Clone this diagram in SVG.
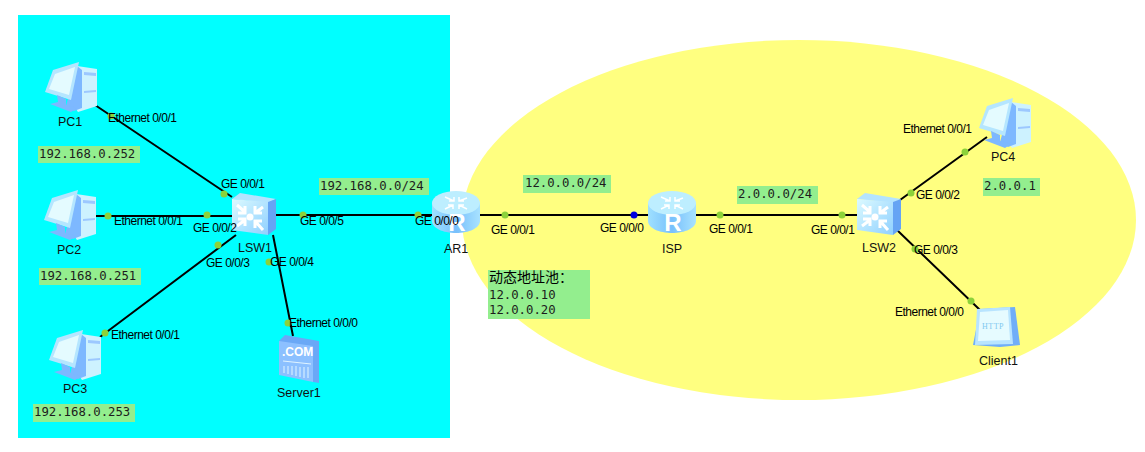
<svg xmlns="http://www.w3.org/2000/svg" width="1145" height="452" viewBox="0 0 1145 452">
<style>
text{font-family:"Liberation Sans",Arial,"Noto Sans CJK SC",sans-serif;font-size:12px;fill:#000;letter-spacing:-.5px}
.l{font-size:12.5px;letter-spacing:0;fill:#111}
.m{font-family:"DejaVu Sans Mono","Liberation Mono","Noto Sans CJK SC",monospace;font-size:12.3px;fill:#1c1c1c;letter-spacing:0}
.n{fill:#93ee8e}
.c{stroke:#000;stroke-width:2;fill:none}
.d{fill:#8cd23a}
.ar{fill:none;stroke:#fff;stroke-width:3}
</style>
<defs>
<linearGradient id="a" x1="0" y1="0" x2="1" y2="1"><stop offset="0" stop-color="#dcfaff"/><stop offset="1" stop-color="#8fd0ff"/></linearGradient>
<linearGradient id="r" x1="0" y1="0" x2="1" y2="0"><stop offset="0" stop-color="#9fe0ff"/><stop offset=".5" stop-color="#78c0fc"/><stop offset="1" stop-color="#a8e2ff"/></linearGradient>
<symbol id="pc" width="53" height="50" viewBox="0 0 53 50" overflow="visible">
<path d="M33 4 53 7V44L34 50 30 44Z" fill="#cdf2ff"/>
<path d="M33 4 38 8V46L30 49 22 44Z" fill="#7db8ff"/>
<path d="M40 10 52 11V14L40 13ZM40 29 52 28V30L40 31Z" fill="#9cc8ff"/>
<path d="M9 8 35 0 27 38 1 30Z" fill="#b5e6ff"/>
<path d="M11 12 31 5 25 33 5 27Z" fill="#e4fbff"/>
<path d="M13 33 22 37 22 43 33 46 27 50 6 42 14 40Z" fill="#7db8ff"/>
</symbol>
<symbol id="sw" width="44" height="42" viewBox="0 0 44 42" overflow="visible">
<path d="M0 6 8 0 44 6 36 10Z" fill="#b4e4ff"/>
<path d="M36 9 44 6V36L36 42Z" fill="#66a4f4"/>
<path d="M0 6 36 9V42L0 37Z" fill="url(#a)"/>
<path class="ar" d="M5 12 13 19M6 20H13V13M31 14 23 20M23 13V20H30M5 33 13 27M6 26H13V33M31 37 23 28M23 35V28H30"/>
<circle cx="18" cy="24" r="3.5" fill="#fff"/>
</symbol>
<symbol id="rt" width="48" height="42" viewBox="0 0 48 42" overflow="visible">
<path d="M0 12V30C0 37 11 42 24 42S48 37 48 30V12Z" fill="url(#r)"/>
<ellipse cx="24" cy="12" rx="24" ry="12" fill="#bdeeff"/>
<path d="M13 6 22 10M17 10H22V6M35 7 27 10M27 6V10H32M13 18 21 14M16 14H21V18M35 18 27 14M27 18V14H32" stroke="#fff" stroke-width="1.5" fill="none"/>
<text x="25" y="40" text-anchor="middle" style="font-size:24px;font-weight:bold;fill:#fff;letter-spacing:0">R</text>
</symbol>
</defs>
<rect width="1145" height="452" fill="#fff"/>
<rect x="18" y="15" width="432" height="423" fill="#00ffff"/>
<ellipse cx="799" cy="220" rx="337" ry="180" fill="#ffff80"/>
<g id="connectors">
<path class="c" d="M95 105 232 197M94 216H232M100 337 236 235M273 235 293 336M276 215H432M480 215H648M696 215H857M900 200 987 137M897 230 980 310"/>
<circle class="d" cx="111" cy="116" r="3.5"/><circle class="d" cx="224" cy="194" r="3.5"/>
<circle class="d" cx="108" cy="216" r="3.5"/><circle class="d" cx="207" cy="215" r="3.5"/>
<circle class="d" cx="218" cy="245" r="3.5"/><circle class="d" cx="105" cy="333" r="3.5"/>
<circle class="d" cx="269" cy="262" r="3.5"/><circle class="d" cx="288" cy="323" r="3.5"/>
<circle class="d" cx="303" cy="215" r="3.5"/><circle class="d" cx="418" cy="215" r="3.5"/>
<circle class="d" cx="505" cy="215" r="3.5"/><circle cx="634" cy="215" r="3.5" fill="#0000e0"/>
<circle class="d" cx="720" cy="215" r="3.5"/><circle class="d" cx="842" cy="215" r="3.5"/>
<circle class="d" cx="911" cy="193" r="3.5"/><circle class="d" cx="965" cy="152" r="3.5"/>
<circle class="d" cx="915" cy="249" r="3.5"/><circle class="d" cx="971" cy="301" r="3.5"/>
</g>
<g id="note-pc1"><rect class="n" x="38" y="146" width="102" height="17"/><text class="m" x="39" y="158">192.168.0.252</text></g>
<g id="note-pc2"><rect class="n" x="39" y="268" width="102" height="17"/><text class="m" x="40" y="280">192.168.0.251</text></g>
<g id="note-pc3"><rect class="n" x="33" y="404" width="102" height="18"/><text class="m" x="34" y="416">192.168.0.253</text></g>
<g id="note-net1"><rect class="n" x="319" y="178" width="110" height="17"/><text class="m" x="320" y="190">192.168.0.0/24</text></g>
<g id="note-net2"><rect class="n" x="523" y="175" width="88" height="18"/><text class="m" x="525" y="187">12.0.0.0/24</text></g>
<g id="note-net3"><rect class="n" x="737" y="186" width="81" height="18"/><text class="m" x="738" y="198">2.0.0.0/24</text></g>
<g id="note-pc4"><rect class="n" x="983" y="178" width="57" height="18"/><text class="m" x="984" y="190">2.0.0.1</text></g>
<g id="note-nat"><rect class="n" x="488" y="270" width="102" height="49"/>
<text class="m" x="489" y="282" style="font-size:14px;fill:#000">动态地址池：</text><text class="m" x="489" y="299">12.0.0.10</text><text class="m" x="489" y="314">12.0.0.20</text></g>
<g id="PC1"><use href="#pc" x="44" y="62"/><text class="l" x="58" y="126">PC1</text></g>
<g id="PC2"><use href="#pc" x="43" y="190"/><text class="l" x="57" y="254">PC2</text></g>
<g id="PC3"><use href="#pc" x="48" y="330"/><text class="l" x="63" y="393">PC3</text></g>
<g id="PC4"><use href="#pc" x="978" y="98"/><text class="l" x="991" y="161">PC4</text></g>
<g id="LSW1"><use href="#sw" x="232" y="193"/><text class="l" x="238" y="252">LSW1</text></g>
<g id="LSW2"><use href="#sw" x="857" y="193"/><text class="l" x="862" y="252">LSW2</text></g>
<g id="AR1"><use href="#rt" x="432" y="191"/><text class="l" x="444" y="253">AR1</text></g>
<g id="ISP"><use href="#rt" x="648" y="191"/><text class="l" x="662" y="253">ISP</text></g>
<g id="Server1"><path d="M279 341 285 335 319 341V383L313 382Z" fill="#6aa8f6"/><path d="M279 341 313 346V382L279 375Z" fill="#8cc0ff"/>
<text x="282" y="356" style="font-size:12px;font-weight:bold;fill:#fff;letter-spacing:0">.COM</text>
<path d="M283 361 311 364M284 366V373M288 366V374M292 366V375M296 366V376M300 367V377M304 367V378M308 367V378" stroke="#e0f4ff" fill="none"/>
<text class="l" x="277" y="397">Server1</text></g>
<g id="Client1"><path d="M980 309 1015 307 1020 345 1000 347 973 345Z" fill="#70aef8"/><path d="M977 309 1010 307 1013 344 975 345Z" fill="#b8e4ff"/><path d="M980 312 1008 310 1010 340 978 341Z" fill="#e6fbff"/>
<text x="982" y="329" style="font-family:'Liberation Serif',serif;font-size:8px;fill:#80c8f0;letter-spacing:.5px">HTTP</text>
<text class="l" x="979" y="365">Client1</text></g>
<g id="labels">
<text x="108" y="122">Ethernet 0/0/1</text><text x="221" y="188">GE 0/0/1</text>
<text x="114" y="225">Ethernet 0/0/1</text><text x="193" y="232">GE 0/0/2</text>
<text x="206" y="267">GE 0/0/3</text><text x="111" y="339">Ethernet 0/0/1</text>
<text x="270" y="266">GE 0/0/4</text><text x="289" y="327">Ethernet 0/0/0</text>
<text x="300" y="225">GE 0/0/5</text><text x="415" y="225">GE 0/0/0</text>
<text x="491" y="234">GE 0/0/1</text><text x="600" y="232">GE 0/0/0</text>
<text x="709" y="233">GE 0/0/1</text><text x="811" y="234">GE 0/0/1</text>
<text x="916" y="199">GE 0/0/2</text><text x="903" y="133">Ethernet 0/0/1</text>
<text x="914" y="254">GE 0/0/3</text><text x="895" y="316">Ethernet 0/0/0</text>
</g>
</svg>
